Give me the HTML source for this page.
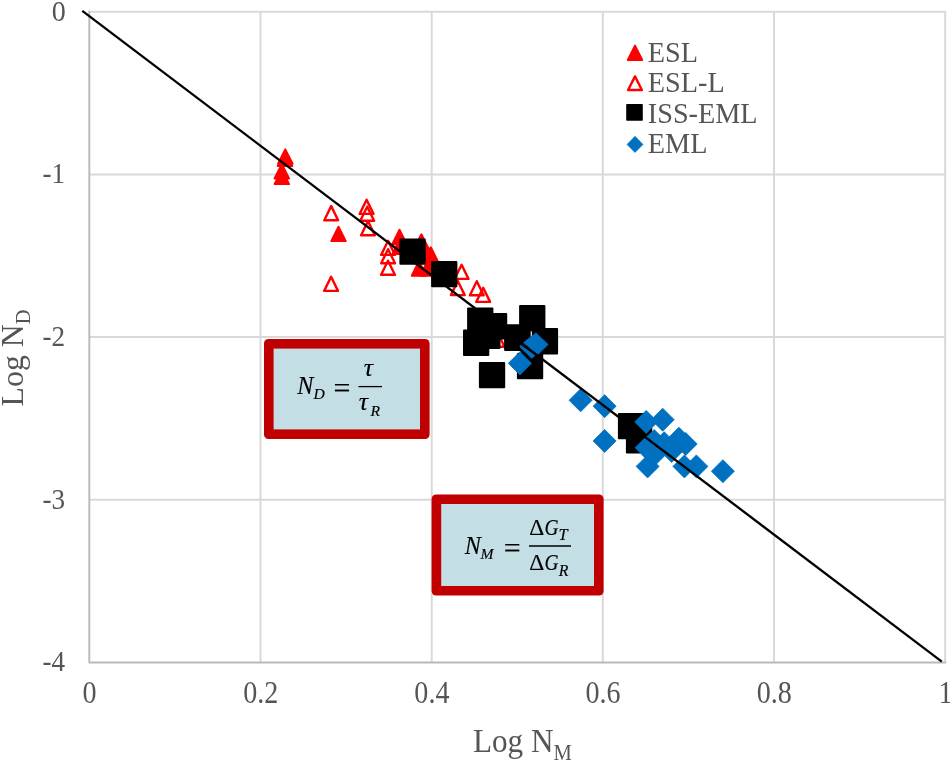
<!DOCTYPE html>
<html lang="en"><head><meta charset="utf-8"><title>Log ND vs Log NM</title>
<style>
html,body{margin:0;padding:0;background:#ffffff;}
body{width:950px;height:760px;overflow:hidden;}
svg{display:block;will-change:transform;}
.t{font-family:"Liberation Serif","DejaVu Serif",serif;fill:#555555;}
.m{font-family:"Liberation Serif","DejaVu Serif",serif;font-style:italic;fill:#000000;stroke:#000000;stroke-width:0.15px;}
</style></head><body>
<svg width="950" height="760" viewBox="0 0 950 760">
<rect x="0" y="0" width="950" height="760" fill="#ffffff"/>
<g stroke="#d9d9d9" stroke-width="2" fill="none" stroke-linejoin="round">
<line x1="260.5" y1="11.8" x2="260.5" y2="662.3"/>
<line x1="431.7" y1="11.8" x2="431.7" y2="662.3"/>
<line x1="602.8" y1="11.8" x2="602.8" y2="662.3"/>
<line x1="774.0" y1="11.8" x2="774.0" y2="662.3"/>
<line x1="89.3" y1="174.4" x2="945.2" y2="174.4"/>
<line x1="89.3" y1="337.1" x2="945.2" y2="337.1"/>
<line x1="89.3" y1="499.7" x2="945.2" y2="499.7"/>
<path d="M89.3,11.8 H945.2 V662.3"/>
</g>
<path d="M89.3,10.8 V662.5 H946.2" stroke="#b9b9b9" stroke-width="1.9" fill="none" stroke-linejoin="round"/>
<g id="yticks">
<text class="t" font-size="28.1" text-anchor="end" transform="translate(65.9 20.5) scale(1.0 1.035)">0</text>
<text class="t" font-size="28.1" text-anchor="end" transform="translate(65.0 183.3) scale(0.965 1.035)">-1</text>
<text class="t" font-size="28.1" text-anchor="end" transform="translate(65.0 345.9) scale(0.965 1.035)">-2</text>
<text class="t" font-size="28.1" text-anchor="end" transform="translate(65.0 508.6) scale(0.965 1.035)">-3</text>
<text class="t" font-size="28.1" text-anchor="end" transform="translate(65.0 671.2) scale(0.965 1.035)">-4</text>
</g>
<g id="xticks">
<text class="t" font-size="28.1" text-anchor="middle" transform="translate(89.5 703.2) scale(1.0 1.115)">0</text>
<text class="t" font-size="28.1" text-anchor="middle" transform="translate(260.7 703.2) scale(1.0 1.115)">0.2</text>
<text class="t" font-size="28.1" text-anchor="middle" transform="translate(431.9 703.2) scale(1.0 1.115)">0.4</text>
<text class="t" font-size="28.1" text-anchor="middle" transform="translate(603.0 703.2) scale(1.0 1.115)">0.6</text>
<text class="t" font-size="28.1" text-anchor="middle" transform="translate(774.2 703.2) scale(1.0 1.115)">0.8</text>
<text class="t" font-size="28.1" text-anchor="middle" transform="translate(945.4 703.2) scale(1.0 1.115)">1</text>
</g>
<text class="t" font-size="31.2" transform="translate(472.9 751.9) scale(1 1.07)">Log N<tspan font-size="20.6" dy="7.1">M</tspan></text>
<text class="t" font-size="31.8" transform="translate(23 406.4) rotate(-90)" x="0" y="0">Log N<tspan font-size="20.4" dy="6.5">D</tspan></text>
<g id="legend">
<polygon points="635,45.6 642.2,60.0 627.8,60.0" fill="#ff0000" stroke="#ff0000" stroke-width="2" stroke-linejoin="round"/>
<polygon points="635,76.4 641.9,90.0 628.1,90.0" fill="#ffffff" stroke="#ff0000" stroke-width="2.4" stroke-linejoin="round"/>
<rect x="626.2" y="104.1" width="16.6" height="16.6" rx="0.8" fill="#000000"/>
<polygon points="635,136.3 643,144.4 635,152.5 627,144.4" fill="#0070c0" stroke="#0070c0" stroke-width="0.6" stroke-linejoin="round"/>
<text class="t" font-size="28.1" text-anchor="start" transform="translate(647.8 61.7) scale(1.005 1.075)">ESL</text>
<text class="t" font-size="28.1" text-anchor="start" transform="translate(647.8 92.2) scale(1.005 1.075)">ESL-L</text>
<text class="t" font-size="28.1" text-anchor="start" transform="translate(647.8 122.8) scale(1.005 1.075)">ISS-EML</text>
<text class="t" font-size="28.1" text-anchor="start" transform="translate(647.8 153.4) scale(1.005 1.075)">EML</text>
</g>
<g id="esl">
<polygon points="285.3,149.4 292.55,163.8 278.05,163.8" fill="#ff0000" stroke="#ff0000" stroke-width="2" stroke-linejoin="round"/>
<polygon points="285.0,151.6 292.25,166.0 277.75,166.0" fill="#ff0000" stroke="#ff0000" stroke-width="2" stroke-linejoin="round"/>
<polygon points="281.8,164.1 289.05,178.5 274.55,178.5" fill="#ff0000" stroke="#ff0000" stroke-width="2" stroke-linejoin="round"/>
<polygon points="281.8,169.7 289.05,184.1 274.55,184.1" fill="#ff0000" stroke="#ff0000" stroke-width="2" stroke-linejoin="round"/>
<polygon points="338.5,226.7 345.75,241.1 331.25,241.1" fill="#ff0000" stroke="#ff0000" stroke-width="2" stroke-linejoin="round"/>
<polygon points="399.5,229.8 406.75,244.2 392.25,244.2" fill="#ff0000" stroke="#ff0000" stroke-width="2" stroke-linejoin="round"/>
<polygon points="399.7,239.7 406.95,254.1 392.45,254.1" fill="#ff0000" stroke="#ff0000" stroke-width="2" stroke-linejoin="round"/>
<polygon points="421.4,234.3 428.65,248.7 414.15,248.7" fill="#ff0000" stroke="#ff0000" stroke-width="2" stroke-linejoin="round"/>
<polygon points="424.0,242.8 431.25,257.2 416.75,257.2" fill="#ff0000" stroke="#ff0000" stroke-width="2" stroke-linejoin="round"/>
<polygon points="430.8,247.3 438.05,261.7 423.55,261.7" fill="#ff0000" stroke="#ff0000" stroke-width="2" stroke-linejoin="round"/>
<polygon points="433.0,254.8 440.25,269.2 425.75,269.2" fill="#ff0000" stroke="#ff0000" stroke-width="2" stroke-linejoin="round"/>
<polygon points="419.0,261.3 426.25,275.7 411.75,275.7" fill="#ff0000" stroke="#ff0000" stroke-width="2" stroke-linejoin="round"/>
<polygon points="427.5,261.3 434.75,275.7 420.25,275.7" fill="#ff0000" stroke="#ff0000" stroke-width="2" stroke-linejoin="round"/>
</g><g id="esll">
<polygon points="331.2,206.1 338.1,220.2 324.3,220.2" fill="none" stroke="#ff0000" stroke-width="2.4" stroke-linejoin="round"/>
<polygon points="366.6,199.8 373.5,213.9 359.7,213.9" fill="none" stroke="#ff0000" stroke-width="2.4" stroke-linejoin="round"/>
<polygon points="367.2,206.7 374.1,220.8 360.3,220.8" fill="none" stroke="#ff0000" stroke-width="2.4" stroke-linejoin="round"/>
<polygon points="368.0,221.1 374.9,235.2 361.1,235.2" fill="none" stroke="#ff0000" stroke-width="2.4" stroke-linejoin="round"/>
<polygon points="331.1,276.8 338.0,290.9 324.2,290.9" fill="none" stroke="#ff0000" stroke-width="2.4" stroke-linejoin="round"/>
<polygon points="388.1,240.8 395.0,254.9 381.2,254.9" fill="none" stroke="#ff0000" stroke-width="2.4" stroke-linejoin="round"/>
<polygon points="388.1,249.2 395.0,263.3 381.2,263.3" fill="none" stroke="#ff0000" stroke-width="2.4" stroke-linejoin="round"/>
<polygon points="388.0,260.7 394.9,274.8 381.1,274.8" fill="none" stroke="#ff0000" stroke-width="2.4" stroke-linejoin="round"/>
<polygon points="461.6,264.8 468.5,278.9 454.7,278.9" fill="none" stroke="#ff0000" stroke-width="2.4" stroke-linejoin="round"/>
<polygon points="457.8,281.0 464.7,295.1 450.9,295.1" fill="none" stroke="#ff0000" stroke-width="2.4" stroke-linejoin="round"/>
<polygon points="476.8,281.2 483.7,295.3 469.9,295.3" fill="none" stroke="#ff0000" stroke-width="2.4" stroke-linejoin="round"/>
<polygon points="483.2,287.8 490.1,301.9 476.3,301.9" fill="none" stroke="#ff0000" stroke-width="2.4" stroke-linejoin="round"/>
<polygon points="497.6,332.7 504.5,346.8 490.7,346.8" fill="none" stroke="#ff0000" stroke-width="2.4" stroke-linejoin="round"/>
</g><g id="iss">
<rect x="399.4" y="238.4" width="26.3" height="26.3" rx="1" fill="#000000"/>
<rect x="431.1" y="261.0" width="26.3" height="26.3" rx="1" fill="#000000"/>
<rect x="467.1" y="307.4" width="26.3" height="26.3" rx="1" fill="#000000"/>
<rect x="480.9" y="313.1" width="26.3" height="26.3" rx="1" fill="#000000"/>
<rect x="519.1" y="304.9" width="26.3" height="26.3" rx="1" fill="#000000"/>
<rect x="463.0" y="329.6" width="26.3" height="26.3" rx="1" fill="#000000"/>
<rect x="474.2" y="322.6" width="26.3" height="26.3" rx="1" fill="#000000"/>
<rect x="504.1" y="324.3" width="26.6" height="26.6" rx="1" fill="#000000"/>
<rect x="531.8" y="328.1" width="26.3" height="26.3" rx="1" fill="#000000"/>
<rect x="478.9" y="361.9" width="26.3" height="26.3" rx="1" fill="#000000"/>
<rect x="516.9" y="352.9" width="26.3" height="26.3" rx="1" fill="#000000"/>
<rect x="617.9" y="412.9" width="26.3" height="26.3" rx="1" fill="#000000"/>
<rect x="625.9" y="427.2" width="26.3" height="26.3" rx="1" fill="#000000"/>
</g><g id="eml">
<polygon points="520.3,344.6 538.6,356.0 532.0,363.6 520.3,351.9" fill="#000000"/>
<polygon points="535.9,332.9 548.1,344.4 537.9,354.6 523.4,342.8" fill="#0070c0" stroke="#0070c0" stroke-width="0.8" stroke-linejoin="round"/>
<polygon points="520.4,345.1 535.2,355.3 531.8,358.5 519.9,347.0" fill="#0070c0" stroke="#0070c0" stroke-width="0.5" stroke-linejoin="round"/>
<polygon points="519.9,351.7 531.5,363.3 519.9,374.9 508.3,363.3" fill="#0070c0" stroke="#0070c0" stroke-width="0.8" stroke-linejoin="round"/>
<polygon points="580.6,388.8 592.1,400.3 580.6,411.8 569.1,400.3" fill="#0070c0" stroke="#0070c0" stroke-width="0.8" stroke-linejoin="round"/>
<polygon points="604.6,394.7 616.1,406.2 604.6,417.7 593.1,406.2" fill="#0070c0" stroke="#0070c0" stroke-width="0.8" stroke-linejoin="round"/>
<polygon points="604.6,429.4 616.1,440.9 604.6,452.4 593.1,440.9" fill="#0070c0" stroke="#0070c0" stroke-width="0.8" stroke-linejoin="round"/>
<polygon points="646.2,410.4 657.7,421.9 646.2,433.4 634.7,421.9" fill="#0070c0" stroke="#0070c0" stroke-width="0.8" stroke-linejoin="round"/>
<polygon points="662.7,408.2 674.2,419.7 662.7,431.2 651.2,419.7" fill="#0070c0" stroke="#0070c0" stroke-width="0.8" stroke-linejoin="round"/>
<polygon points="678.9,427.2 690.4,438.7 678.9,450.2 667.4,438.7" fill="#0070c0" stroke="#0070c0" stroke-width="0.8" stroke-linejoin="round"/>
<polygon points="685.7,432.5 697.2,444.0 685.7,455.5 674.2,444.0" fill="#0070c0" stroke="#0070c0" stroke-width="0.8" stroke-linejoin="round"/>
<polygon points="646.6,436.2 658.1,447.7 646.6,459.2 635.1,447.7" fill="#0070c0" stroke="#0070c0" stroke-width="0.8" stroke-linejoin="round"/>
<polygon points="654.2,429.5 665.7,441.0 654.2,452.5 642.7,441.0" fill="#0070c0" stroke="#0070c0" stroke-width="0.8" stroke-linejoin="round"/>
<polygon points="647.6,454.9 659.1,466.4 647.6,477.9 636.1,466.4" fill="#0070c0" stroke="#0070c0" stroke-width="0.8" stroke-linejoin="round"/>
<polygon points="654.0,443.5 665.5,455.0 654.0,466.5 642.5,455.0" fill="#0070c0" stroke="#0070c0" stroke-width="0.8" stroke-linejoin="round"/>
<polygon points="671.7,439.5 683.2,451.0 671.7,462.5 660.2,451.0" fill="#0070c0" stroke="#0070c0" stroke-width="0.8" stroke-linejoin="round"/>
<polygon points="664.2,431.7 675.7,443.2 664.2,454.7 652.7,443.2" fill="#0070c0" stroke="#0070c0" stroke-width="0.8" stroke-linejoin="round"/>
<polygon points="684.4,454.9 695.9,466.4 684.4,477.9 672.9,466.4" fill="#0070c0" stroke="#0070c0" stroke-width="0.8" stroke-linejoin="round"/>
<polygon points="696.4,454.9 707.9,466.4 696.4,477.9 684.9,466.4" fill="#0070c0" stroke="#0070c0" stroke-width="0.8" stroke-linejoin="round"/>
<polygon points="722.9,459.7 734.4,471.2 722.9,482.7 711.4,471.2" fill="#0070c0" stroke="#0070c0" stroke-width="0.8" stroke-linejoin="round"/>
</g>
<line x1="82.3" y1="10.9" x2="941.8" y2="661.6" stroke="#000000" stroke-width="2.3" stroke-linecap="butt"/>
<g id="eq1">
<rect x="264" y="339" width="165.6" height="100.0" rx="4.5" fill="#c00000"/><rect x="273.6" y="348.6" width="146.4" height="80.8" fill="#c4dee5"/>
<text class="m" font-size="24.2" transform="translate(297.3 394.0) scale(1.0 1.0)">N</text>
<text class="m" font-size="15.6" transform="translate(313.6 399.0) scale(1.0 1.0)">D</text>
<text class="m" font-size="30" style="font-style:normal" transform="translate(333.6 398.1) scale(1.0 1.0)">=</text>
<line x1="358.4" y1="386.6" x2="382" y2="386.6" stroke="#000" stroke-width="1.3"/>
<text class="m" font-size="26" transform="translate(363.8 375.5) scale(1.0 1.0)">τ</text>
<text class="m" font-size="26" transform="translate(358.8 410.0) scale(1.0 1.0)">τ</text>
<text class="m" font-size="15.6" transform="translate(370.4 416.0) scale(1.0 1.0)">R</text>
</g>
<g id="eq2">
<rect x="431.6" y="494.4" width="172.0" height="101.2" rx="4.5" fill="#c00000"/><rect x="441.2" y="504.0" width="152.8" height="82.0" fill="#c4dee5"/>
<text class="m" font-size="24.2" transform="translate(464.7 554.0) scale(1.0 1.0)">N</text>
<text class="m" font-size="15.6" transform="translate(480.4 558.6) scale(1.0 1.0)">M</text>
<text class="m" font-size="30" style="font-style:normal" transform="translate(503.8 557.6) scale(1.0 1.0)">=</text>
<line x1="529" y1="546" x2="571" y2="546" stroke="#000" stroke-width="1.3"/>
<text class="m" font-size="22.6" style="font-style:normal" transform="translate(529.2 534.6) scale(1.03 1.0)">Δ</text>
<text class="m" font-size="22.6" transform="translate(544.4 534.6) scale(0.86 1.0)">G</text>
<text class="m" font-size="16.4" transform="translate(558.4 540.0) scale(1.0 1.0)">T</text>
<text class="m" font-size="22.6" style="font-style:normal" transform="translate(529.2 570.0) scale(1.03 1.0)">Δ</text>
<text class="m" font-size="22.6" transform="translate(544.4 570.0) scale(0.86 1.0)">G</text>
<text class="m" font-size="15.8" transform="translate(558.8 576.0) scale(1.0 1.0)">R</text>
</g>
</svg></body></html>
